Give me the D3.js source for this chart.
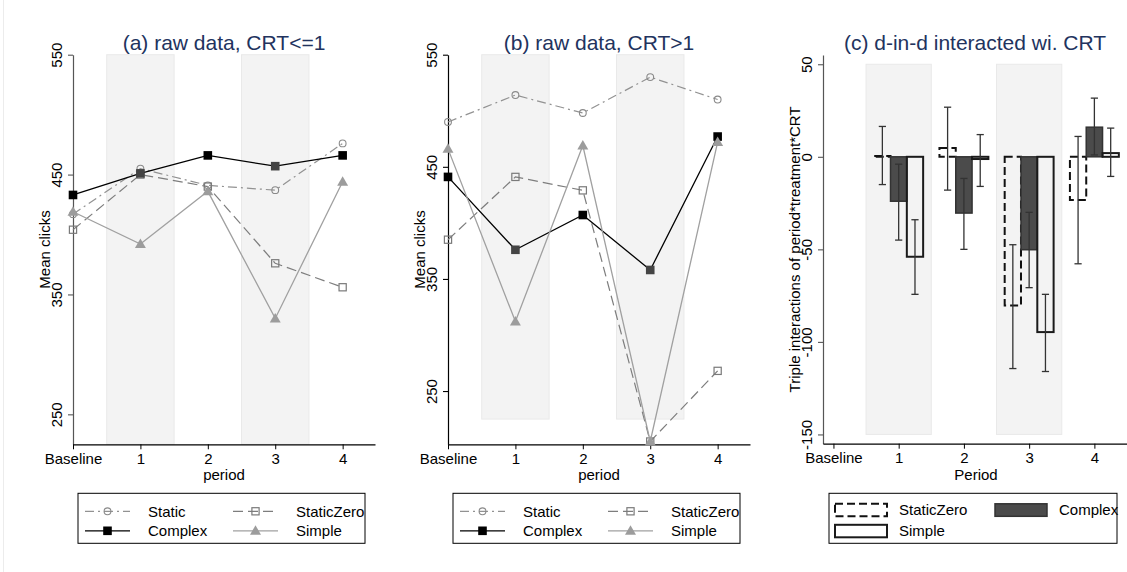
<!DOCTYPE html>
<html>
<head>
<meta charset="utf-8">
<script src="https://cdn.jsdelivr.net/npm/d3@7"></script>
<style>
body { margin: 0; background: #fff; }
svg { display: block; font-family: "Liberation Sans", Arial, Helvetica, sans-serif; }
</style>
</head>
<body>
<svg id="chart"></svg>
<script>
const width = 1127;
const height = 572;

// x categories
const periods = ['Baseline', '1', '2', '3', '4'];
const shadedPeriods = [1, 3];

// panel (a) raw data, CRT<=1
const aStatic = [417, 455, 441, 437, 476];
const aStaticZero = [404, 450, 440, 376, 356];
const aComplex = [433, 451, 466, 457, 466];
const aSimple = [419, 392, 436, 330, 444];

// panel (b) raw data, CRT>1
const bStatic = [490, 514, 498, 530, 510];
const bStaticZero = [385, 441, 429, 205, 268];
const bComplex = [441, 376, 407, 358, 477];
const bSimple = [466, 312, 469, 205, 472];

const lineTicks = [250, 350, 450, 550];

// panel (c) triple interaction coefficients, periods 1..4
const cPeriods = [1, 2, 3, 4];
const cStaticZero = [0.5, 4.7, -80.4, -23.4];
const cStaticZeroLo = [-15, -18, -114.4, -57.8];
const cStaticZeroHi = [16.4, 26.8, -47.5, 11];
const cComplex = [-24, -30.4, -50.2, 16];
const cComplexLo = [-45, -50, -70.7, 1];
const cComplexHi = [-4, -11.7, -30, 31.7];
const cSimple = [-54, -1.2, -94.7, 2];
const cSimpleLo = [-74.3, -16, -116, -10.6];
const cSimpleHi = [-34, 12, -74.3, 15.5];
const barTicks = [-150, -100, -50, 0, 50];

const titleColor = '#22335e';
const styles = {
    Static: { stroke: '#929292', dash: '9,4,2,4', width: 1.2 },
    StaticZero: { stroke: '#7d7d7d', dash: '10,5', width: 1.2 },
    Complex: { stroke: '#000', dash: null, width: 1.3 },
    Simple: { stroke: '#a0a0a0', dash: null, width: 1.3 }
};

const svg = d3.select('#chart')
    .attr('width', width)
    .attr('height', height);

// faint outer border on the left
svg.append('line')
    .attr('x1', 3.5).attr('x2', 3.5)
    .attr('y1', 0).attr('y2', height)
    .attr('stroke', '#ececec');

function drawMarker(g, name, cx, cy, inBand) {
    if (name === 'Static') {
        g.append('circle').attr('cx', cx).attr('cy', cy).attr('r', 3.4)
            .attr('fill', 'none').attr('stroke', '#8a8a8a').attr('stroke-width', 1.1);
    } else if (name === 'StaticZero') {
        g.append('rect').attr('x', cx - 3.6).attr('y', cy - 3.6)
            .attr('width', 7.2).attr('height', 7.2)
            .attr('fill', 'none').attr('stroke', '#7a7a7a').attr('stroke-width', 1.2);
    } else if (name === 'Complex') {
        g.append('rect').attr('x', cx - 4.3).attr('y', cy - 4.3)
            .attr('width', 8.6).attr('height', 8.6)
            .attr('fill', inBand ? '#444' : '#000');
    } else {
        g.append('path')
            .attr('d', d3.symbol(d3.symbolTriangle, 52)())
            .attr('transform', 'translate(' + cx + ',' + (cy + 0.8) + ')')
            .attr('fill', '#9c9c9c');
    }
}

function yAxisRotated(g, axis, color) {
    g.call(axis);
    g.select('.domain').attr('stroke', color).attr('stroke-width', 1.2);
    g.selectAll('.tick line').attr('stroke', color).attr('stroke-width', 1.1);
    g.selectAll('.tick text')
        .attr('x', null).attr('dy', null)
        .attr('transform', 'translate(-11,0) rotate(-90)')
        .attr('text-anchor', 'middle')
        .attr('fill', '#000')
        .style('font-size', '15px');
}

function xAxisStyled(g, axis) {
    g.call(axis);
    g.select('.domain').attr('stroke', '#000').attr('stroke-width', 1.2);
    g.selectAll('.tick line').attr('stroke', '#000');
    g.selectAll('.tick text').attr('y', 9).attr('fill', '#000').style('font-size', '15px');
}

function linePanel(cfg) {
    const x = d3.scaleLinear().domain([0, 4.48]).range([cfg.left, cfg.left + 302]);
    const y = d3.scaleLinear().domain(cfg.yDomain).range([444.3, 54.7]);
    const g = svg.append('g');

    g.selectAll('.band')
        .data(shadedPeriods)
        .enter().append('rect')
        .attr('x', d => x(d - 0.5))
        .attr('width', x(1) - x(0))
        .attr('y', y(550))
        .attr('height', y(225) - y(550))
        .attr('fill', '#f3f3f3')
        .attr('stroke', '#e9e9e9');

    yAxisRotated(g.append('g').attr('transform', 'translate(' + cfg.left + ',0)'),
        d3.axisLeft(y).tickValues(lineTicks).tickFormat(d => String(d))
            .tickSize(5).tickSizeOuter(0), cfg.axisColor);

    xAxisStyled(g.append('g').attr('transform', 'translate(0,444.3)'),
        d3.axisBottom(x).tickValues([0, 1, 2, 3, 4]).tickFormat(i => periods[i])
            .tickSize(5).tickSizeOuter(0));

    const line = d3.line().x((d, i) => x(i)).y(d => y(d));
    cfg.series.forEach(s => {
        const st = styles[s.name];
        g.append('path')
            .datum(s.values)
            .attr('d', line)
            .attr('fill', 'none')
            .attr('stroke', st.stroke)
            .attr('stroke-width', st.width)
            .attr('stroke-dasharray', st.dash);
        s.values.forEach((v, i) => drawMarker(g, s.name, x(i), y(v), shadedPeriods.includes(i)));
    });

    const mid = cfg.left + 151;
    g.append('text')
        .attr('x', mid).attr('y', 49.5)
        .attr('text-anchor', 'middle')
        .attr('fill', titleColor)
        .style('font-size', '21px')
        .text(cfg.title);

    g.append('text')
        .attr('transform', 'translate(' + (cfg.left - 23) + ',249.5) rotate(-90)')
        .attr('text-anchor', 'middle')
        .style('font-size', '15px')
        .text('Mean clicks');

    g.append('text')
        .attr('x', mid).attr('y', 479.5)
        .attr('text-anchor', 'middle')
        .style('font-size', '15px')
        .text('period');

    // legend
    const lx = cfg.left + 5;
    const lg = g.append('g').attr('transform', 'translate(' + lx + ',493.3)');
    lg.append('rect')
        .attr('width', 287).attr('height', 50)
        .attr('fill', '#fff').attr('stroke', '#000').attr('stroke-width', 1);
    const items = [
        { name: 'Static', col: 0, row: 0 },
        { name: 'StaticZero', col: 1, row: 0 },
        { name: 'Complex', col: 0, row: 1 },
        { name: 'Simple', col: 1, row: 1 }
    ];
    items.forEach(it => {
        const st = styles[it.name];
        const sx = 7 + it.col * 148;
        const sy = 18 + it.row * 19.5;
        lg.append('line')
            .attr('x1', sx).attr('x2', sx + 45)
            .attr('y1', sy).attr('y2', sy)
            .attr('stroke', st.stroke)
            .attr('stroke-width', st.width)
            .attr('stroke-dasharray', st.dash);
        drawMarker(lg, it.name, sx + 22.5, sy, false);
        lg.append('text')
            .attr('x', sx + 63).attr('y', sy + 5.5)
            .style('font-size', '15px')
            .text(it.name);
    });
}

linePanel({
    left: 73,
    yDomain: [225, 550],
    axisColor: '#555',
    title: '(a) raw data, CRT<=1',
    series: [
        { name: 'Static', values: aStatic },
        { name: 'StaticZero', values: aStaticZero },
        { name: 'Complex', values: aComplex },
        { name: 'Simple', values: aSimple }
    ]
});

linePanel({
    left: 448,
    yDomain: [202.5, 550],
    axisColor: '#000',
    title: '(b) raw data, CRT>1',
    series: [
        { name: 'Static', values: bStatic },
        { name: 'StaticZero', values: bStaticZero },
        { name: 'Complex', values: bComplex },
        { name: 'Simple', values: bSimple }
    ]
});

// panel (c)
const xc = d3.scaleLinear().domain([-0.16, 4.5]).range([823, 1127]);
const yc = d3.scaleLinear().domain([-155, 55]).range([443.7, 55]);
const gc = svg.append('g');

gc.selectAll('.band')
    .data(shadedPeriods)
    .enter().append('rect')
    .attr('x', d => xc(d - 0.5))
    .attr('width', xc(1) - xc(0))
    .attr('y', yc(50))
    .attr('height', yc(-150) - yc(50))
    .attr('fill', '#f3f3f3')
    .attr('stroke', '#e9e9e9');

yAxisRotated(gc.append('g').attr('transform', 'translate(823,0)'),
    d3.axisLeft(yc).tickValues(barTicks).tickFormat(d => String(d))
        .tickSize(5).tickSizeOuter(0), '#555');

xAxisStyled(gc.append('g').attr('transform', 'translate(0,443.7)'),
    d3.axisBottom(xc).tickValues([0, 1, 2, 3, 4]).tickFormat(i => periods[i])
        .tickSize(5).tickSizeOuter(0));

const barSeries = [
    { name: 'StaticZero', vals: cStaticZero, lo: cStaticZeroLo, hi: cStaticZeroHi, off: -1,
      fill: 'none', stroke: '#111', sw: 2, dash: '8,4' },
    { name: 'Complex', vals: cComplex, lo: cComplexLo, hi: cComplexHi, off: 0,
      fill: '#4b4b4b', stroke: '#333', sw: 1.5, dash: null },
    { name: 'Simple', vals: cSimple, lo: cSimpleLo, hi: cSimpleHi, off: 1,
      fill: 'none', stroke: '#1a1a1a', sw: 2, dash: null }
];
const bw = 0.25;

barSeries.forEach(s => {
    const rows = cPeriods.map((p, i) => ({ p: p, v: s.vals[i], lo: s.lo[i], hi: s.hi[i] }));
    gc.selectAll('.bar-' + s.name)
        .data(rows)
        .enter().append('rect')
        .attr('x', d => xc(d.p + s.off * bw - bw / 2))
        .attr('width', xc(bw) - xc(0))
        .attr('y', d => yc(Math.max(0, d.v)))
        .attr('height', d => Math.abs(yc(d.v) - yc(0)))
        .attr('fill', s.fill)
        .attr('stroke', s.stroke)
        .attr('stroke-width', s.sw)
        .attr('stroke-dasharray', s.dash);
});

barSeries.forEach(s => {
    const rows = cPeriods.map((p, i) => ({ p: p, lo: s.lo[i], hi: s.hi[i] }));
    const eg = gc.selectAll('.err-' + s.name)
        .data(rows)
        .enter().append('g')
        .attr('stroke', '#333')
        .attr('stroke-width', 1.3);
    eg.append('line')
        .attr('x1', d => xc(d.p + s.off * bw)).attr('x2', d => xc(d.p + s.off * bw))
        .attr('y1', d => yc(d.lo)).attr('y2', d => yc(d.hi));
    eg.append('line')
        .attr('x1', d => xc(d.p + s.off * bw) - 3.6).attr('x2', d => xc(d.p + s.off * bw) + 3.6)
        .attr('y1', d => yc(d.lo)).attr('y2', d => yc(d.lo));
    eg.append('line')
        .attr('x1', d => xc(d.p + s.off * bw) - 3.6).attr('x2', d => xc(d.p + s.off * bw) + 3.6)
        .attr('y1', d => yc(d.hi)).attr('y2', d => yc(d.hi));
});

gc.append('text')
    .attr('x', 975).attr('y', 49.5)
    .attr('text-anchor', 'middle')
    .attr('fill', titleColor)
    .style('font-size', '21px')
    .text('(c) d-in-d interacted wi. CRT');

gc.append('text')
    .attr('transform', 'translate(800,249.4) rotate(-90)')
    .attr('text-anchor', 'middle')
    .style('font-size', '15px')
    .text('Triple interactions of period*treatment*CRT');

gc.append('text')
    .attr('x', 976).attr('y', 479.5)
    .attr('text-anchor', 'middle')
    .style('font-size', '15px')
    .text('Period');

// legend (c)
const lc = gc.append('g').attr('transform', 'translate(829,493.3)');
lc.append('rect')
    .attr('width', 288).attr('height', 50)
    .attr('fill', '#fff').attr('stroke', '#000').attr('stroke-width', 1);
const barLegend = [
    { s: barSeries[0], col: 0, row: 0 },
    { s: barSeries[1], col: 1, row: 0 },
    { s: barSeries[2], col: 0, row: 1 }
];
barLegend.forEach(it => {
    const sx = 6 + it.col * 160;
    const sy = 10.5 + it.row * 21;
    lc.append('rect')
        .attr('x', sx).attr('y', sy)
        .attr('width', 52).attr('height', 12.5)
        .attr('fill', it.s.fill === 'none' ? '#fff' : it.s.fill)
        .attr('stroke', it.s.stroke)
        .attr('stroke-width', it.s.sw)
        .attr('stroke-dasharray', it.s.dash);
    lc.append('text')
        .attr('x', sx + 64).attr('y', sy + 11)
        .style('font-size', '15px')
        .text(it.s.name);
});
</script>
</body>
</html>
